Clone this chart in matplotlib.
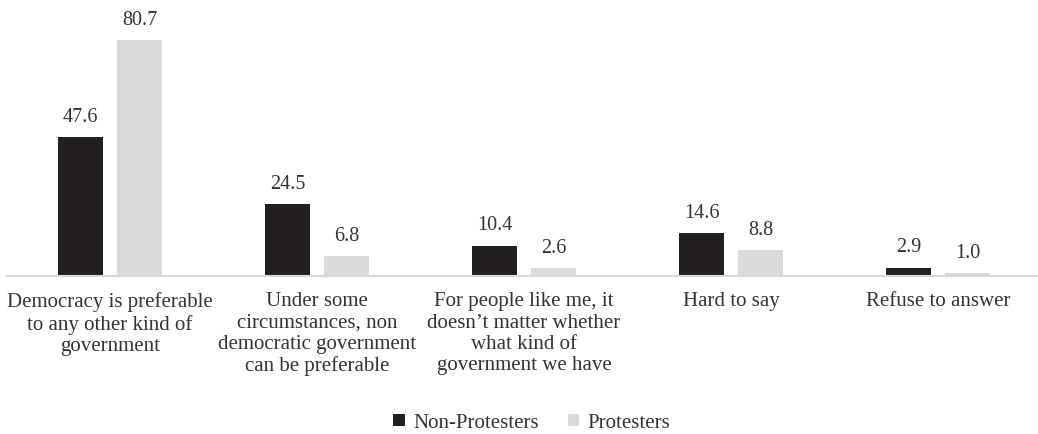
import numpy as np
import matplotlib.pyplot as plt

plt.rcParams['font.family'] = ['Liberation Serif', 'DejaVu Serif']

categories = [
    "Democracy is preferable\nto any other kind of\ngovernment",
    "Under some\ncircumstances, non\ndemocratic government\ncan be preferable",
    "For people like me, it\ndoesn\u2019t matter whether\nwhat kind of\ngovernment we have",
    "Hard to say",
    "Refuse to answer",
]
non_protesters = [47.6, 24.5, 10.4, 14.6, 2.9]
protesters = [80.7, 6.8, 2.6, 8.8, 1.0]

dark = '#231f20'
light = '#d9dadc'
text_col = '#333333'

fig = plt.figure(figsize=(10.38, 4.35), dpi=100)
ax = fig.add_axes([6.5 / 1038, 158 / 435, 1035 / 1038, 263.3 / 435])

x = np.arange(len(categories))
w = 0.222
off = 0.1425
b1 = ax.bar(x - off, non_protesters, w, color=dark, label='Non-Protesters')
b2 = ax.bar(x + off, protesters, w, color=light, label='Protesters')

for bars, vals in ((b1, non_protesters), (b2, protesters)):
    for r, v in zip(bars, vals):
        ax.annotate(f'{v:.1f}', (r.get_x() + r.get_width() / 2, v),
                    xytext=(0, 8), textcoords='offset points',
                    ha='center', va='bottom', fontsize=14.5, color=text_col)

ax.set_xlim(-0.5, len(categories) - 0.5)
ax.set_ylim(0, 90)
ax.set_xticks(x)
ax.set_xticklabels(categories, fontsize=15, color=text_col, linespacing=1.17,
                   va='top')
ax.tick_params(axis='x', length=0, pad=11)
ax.set_yticks([])
for s in ('top', 'right', 'left'):
    ax.spines[s].set_visible(False)
ax.spines['bottom'].set_color('#d9d9d9')
ax.spines['bottom'].set_linewidth(1.5)

fig.legend(handles=[b1, b2], loc='center', bbox_to_anchor=(532 / 1038, 1 - 424 / 435),
           ncol=2, frameon=False, fontsize=15, handlelength=0.55, handleheight=0.55,
           handletextpad=0.4, columnspacing=1.4, labelcolor=text_col)

fig.savefig('out.png', dpi=100)
